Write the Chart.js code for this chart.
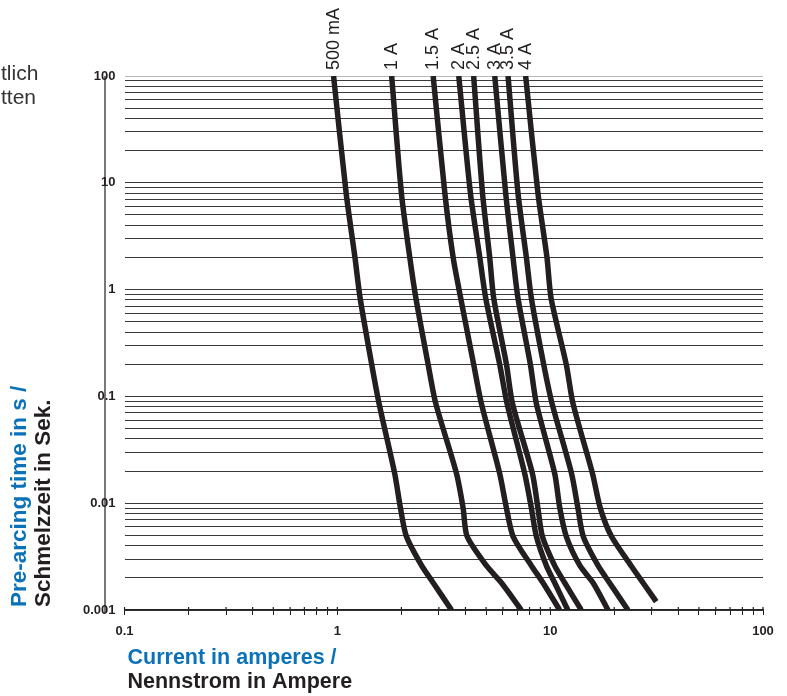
<!DOCTYPE html>
<html>
<head>
<meta charset="utf-8">
<script src="https://cdn.jsdelivr.net/npm/chart.js@4.4.1/dist/chart.umd.min.js"></script>
<style>
  html, body { margin: 0; padding: 0; background: #fff; }
</style>
</head>
<body>
<canvas id="fuse-chart" width="787" height="696"></canvas>
<script>
// pre-arcing time (s) at the points
const times = [100, 8, 2, 0.83, 0.2, 0.086, 0.019, 0.009, 0.0049, 0.0026, 0.0018, 0.001];
const times4A = [100, 8, 2, 0.83, 0.2, 0.086, 0.019, 0.009, 0.0049, 0.0026, 0.0018, 0.0012];

// current (A) for each fuse rating at those times
const cur500mA = [0.96, 1.10, 1.21, 1.28, 1.45, 1.57, 1.86, 1.98, 2.11, 2.49, 2.82, 3.44];
const cur1A = [1.80, 2.00, 2.19, 2.34, 2.67, 2.90, 3.63, 3.90, 4.07, 5.02, 5.90, 7.32];
const cur1_5A = [2.82, 3.20, 3.50, 3.80, 4.37, 4.75, 5.79, 6.23, 6.69, 8.16, 9.25, 11.08];
const cur2A = [3.72, 4.22, 4.67, 4.98, 5.79, 6.27, 7.59, 8.16, 8.61, 9.60, 10.5, 12.1];
const cur2_5A = [4.37, 4.81, 5.20, 5.43, 6.23, 6.65, 8.25, 8.76, 9.19, 10.5, 11.7, 14.0];
const cur3A = [5.49, 6.18, 6.69, 7.06, 8.07, 8.61, 10.5, 11.1, 11.9, 13.8, 15.9, 18.7];
const cur3_5A = [6.34, 7.06, 7.73, 8.16, 9.32, 10.2, 12.6, 13.5, 14.3, 16.8, 19.0, 23.2];
const cur4A = [7.67, 8.76, 9.66, 10.1, 11.9, 12.8, 15.8, 17.2, 19.4, 24.0, 27.3, 31.5];

const fuseLabels = ["500 mA", "1 A", "1.5 A", "2 A", "2.5 A", "3 A", "3.5 A", "4 A"];
const xTickLabels = [0.1, 1, 10, 100];
const yTickLabels = [0.001, 0.01, 0.1, 1, 10, 100];

const FONT = "'Liberation Sans', Arial, sans-serif";
const BLUE = "#0b72b9";
const INK = "#231f20";

Chart.defaults.font.family = FONT;

// all 1..9 steps of each decade between the labelled values
function logSteps(decades) {
  const out = [];
  for (let i = 0; i < decades.length - 1; i++) {
    for (let k = 1; k < 10; k++) out.push(Number((decades[i] * k).toPrecision(2)));
  }
  out.push(decades[decades.length - 1]);
  return out;
}

function curve(label, currents, t) {
  return {
    label: label,
    data: currents.map((c, i) => ({ x: c, y: t[i] })),
    borderColor: INK,
    borderWidth: 5.5,
    pointRadius: 0,
    tension: 0.25,
    fill: false,
  };
}

// rotated rating labels above the top of each curve
const curveLabels = {
  id: "curveLabels",
  afterDraw(chart) {
    const ctx = chart.ctx;
    ctx.save();
    ctx.fillStyle = INK;
    ctx.font = "18px " + FONT;
    ctx.textAlign = "left";
    ctx.textBaseline = "middle";
    chart.data.datasets.forEach((ds, i) => {
      const p = chart.getDatasetMeta(i).data[0];
      ctx.save();
      ctx.translate(p.x, chart.chartArea.top - 6);
      ctx.rotate(-Math.PI / 2);
      ctx.fillText(ds.label, 0, 0);
      ctx.restore();
    });
    ctx.restore();
  },
};

// axis titles, the detached y axis line, small x ticks and the clipped text at the top left
const decorations = {
  id: "decorations",
  afterDraw(chart) {
    const ctx = chart.ctx;
    const area = chart.chartArea;
    const xs = chart.scales.x;
    ctx.save();

    ctx.strokeStyle = INK;
    ctx.lineWidth = 1.2;
    ctx.beginPath();
    ctx.moveTo(area.left - 19.5, area.top);
    ctx.lineTo(area.left - 19.5, area.bottom + 3);
    // tick marks poke a little above the x axis too
    xs.ticks.forEach((t) => {
      const px = xs.getPixelForValue(t.value);
      ctx.moveTo(px, area.bottom - 3);
      ctx.lineTo(px, area.bottom);
    });
    ctx.stroke();

    ctx.textAlign = "left";
    ctx.textBaseline = "alphabetic";
    ctx.font = "bold 21.5px " + FONT;
    ctx.fillStyle = BLUE;
    ctx.fillText("Current in amperes /", area.left + 3, 664);
    ctx.fillStyle = INK;
    ctx.fillText("Nennstrom in Ampere", area.left + 3, 688);

    ctx.save();
    ctx.font = "bold 22.5px " + FONT;
    ctx.translate(0, 607);
    ctx.rotate(-Math.PI / 2);
    ctx.fillStyle = BLUE;
    ctx.fillText("Pre-arcing time in s /", 0, 26);
    ctx.fillStyle = INK;
    ctx.fillText("Schmelzzeit in Sek.", 0, 50);
    ctx.restore();

    ctx.font = "21px " + FONT;
    ctx.fillStyle = "#333";
    ctx.fillText("tlich", 1, 80);
    ctx.fillText("tten", 1, 104);
    ctx.restore();
  },
};

const ctx = document.getElementById("fuse-chart").getContext("2d");
const fuseChart = new Chart(ctx, {
  type: "line",
  data: {
    datasets: [
      curve(fuseLabels[0], cur500mA, times),
      curve(fuseLabels[1], cur1A, times),
      curve(fuseLabels[2], cur1_5A, times),
      curve(fuseLabels[3], cur2A, times),
      curve(fuseLabels[4], cur2_5A, times),
      curve(fuseLabels[5], cur3A, times),
      curve(fuseLabels[6], cur3_5A, times),
      curve(fuseLabels[7], cur4A, times4A),
    ],
  },
  options: {
    responsive: false,
    animation: false,
    layout: { padding: { top: 76, right: 24, left: 0, bottom: 0 } },
    plugins: { legend: { display: false }, tooltip: { enabled: false } },
    scales: {
      x: {
        type: "logarithmic",
        min: 0.1,
        max: 100,
        afterBuildTicks: (s) => { s.ticks = logSteps(xTickLabels).map((v) => ({ value: v })); },
        afterFit: (s) => { s.height = 86; },
        ticks: {
          autoSkip: false,
          maxRotation: 0,
          padding: 9,
          color: INK,
          font: { size: 13, weight: "bold" },
          callback: (v) => (xTickLabels.includes(v) ? String(v) : ""),
        },
        grid: { drawOnChartArea: false, drawTicks: true, tickLength: 5, color: INK },
        border: { display: true, color: INK, width: 1.2 },
      },
      y: {
        type: "logarithmic",
        min: 0.001,
        max: 100,
        afterBuildTicks: (s) => { s.ticks = logSteps(yTickLabels).map((v) => ({ value: v })); },
        afterFit: (s) => { s.width = 124.5; },
        ticks: {
          autoSkip: false,
          padding: 9,
          color: INK,
          font: { size: 13, weight: "bold" },
          callback: (v) => (yTickLabels.includes(v) ? String(v) : ""),
        },
        grid: {
          drawTicks: false,
          lineWidth: 1,
          color: (c) => (c.tick && c.tick.value === 100 ? "#b8b8b8" : "#3a3a3a"),
        },
        border: { display: false },
      },
    },
  },
  plugins: [curveLabels, decorations],
});
</script>
</body>
</html>
